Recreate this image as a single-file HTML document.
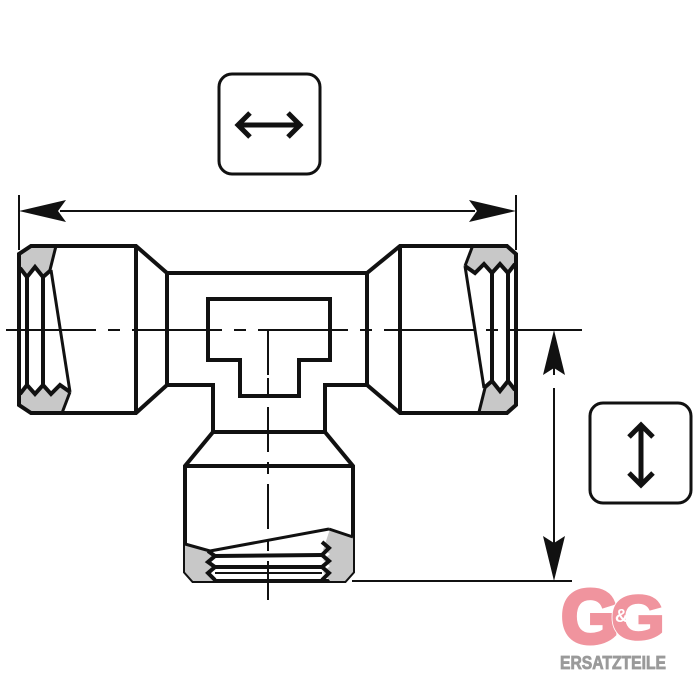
<!DOCTYPE html>
<html><head><meta charset="utf-8"><style>
html,body{margin:0;padding:0;background:#fff;width:700px;height:700px;overflow:hidden}
</style></head><body>
<svg width="700" height="700" viewBox="0 0 700 700" xmlns="http://www.w3.org/2000/svg">
<rect width="700" height="700" fill="#fff"/>
<g fill="none" stroke="#111" stroke-linejoin="miter">
<line x1="6" y1="330" x2="582" y2="330" stroke-width="2" stroke-dasharray="90 12 12 12"/>
<line x1="268" y1="330" x2="268" y2="600" stroke-width="2" stroke-dasharray="45 10 12 10"/>
<line x1="19" y1="195" x2="19" y2="250" stroke-width="2"/>
<line x1="516" y1="195" x2="516" y2="250" stroke-width="2"/>
<line x1="60" y1="211" x2="475" y2="211" stroke-width="2"/>
</g>
<polygon points="19,211 66,200 58,211 66,222" fill="#111"/>
<polygon points="516,211 469,200 477,211 469,222" fill="#111"/>

<g stroke="#111" fill="none" stroke-width="2">
<line x1="554" y1="360" x2="554" y2="375"/>
<line x1="554" y1="388" x2="554" y2="545"/>
<line x1="352" y1="581" x2="572" y2="581"/>
<line x1="540" y1="330" x2="582" y2="330"/>
</g>
<polygon points="554,330 543,375 554,368 565,375" fill="#111"/>
<polygon points="554,581 543,536 554,543 565,536" fill="#111"/>

<rect x="219" y="74" width="101" height="100" rx="13" fill="none" stroke="#111" stroke-width="3"/>
<g stroke="#111" stroke-width="5" fill="none">
<line x1="240" y1="125" x2="298" y2="125"/>
<polyline points="250,113 238,125 250,137"/>
<polyline points="288,113 300,125 288,137"/>
</g>
<rect x="590" y="403" width="101" height="100" rx="13" fill="none" stroke="#111" stroke-width="3"/>
<g stroke="#111" stroke-width="5" fill="none">
<line x1="641" y1="428" x2="641" y2="482"/>
<polyline points="629,437 641,425 653,437"/>
<polyline points="629,473 641,485 653,473"/>
</g>

<g id="nut">
<polygon points="19,254 31,245 55,245 50,270 43,276 35,266 27,276 20,268" fill="#c8c8c8"/>
<polygon points="20,395 27,386 35,395 43,386 51,395 60,386 70,392 63,413 31,413 19,406" fill="#c8c8c8"/>
<g fill="none" stroke="#111" stroke-width="4">
<polyline points="20,268 27,277 35,267 43,277 51,270"/>
<polyline points="20,394 27,385 35,394 43,385 51,394 60,385 70,392"/>
<line x1="27" y1="277" x2="27" y2="385"/>
<line x1="43" y1="277" x2="43" y2="385"/>
<line x1="56" y1="246" x2="50" y2="270" stroke-width="3"/>
<line x1="51" y1="270" x2="70" y2="392" stroke-width="3"/>
<line x1="70" y1="392" x2="62" y2="413" stroke-width="3"/>
</g>
</g>
<use href="#nut" transform="rotate(180 267.5 329)"/>

<g fill="none" stroke="#111" stroke-width="4" stroke-linejoin="miter">
<path d="M31,246 H136 L167,273 H367 L400,246 H507 L516,254 V405 L507,413 H400 L367,385 H325 V432 L353,466 V572 L345,581 H193 L185,572 V466 L213,432 V385 H167 L136,413 H31 L19,405 V254 Z"/>
<line x1="136" y1="246" x2="136" y2="413"/>
<line x1="167" y1="273" x2="167" y2="385"/>
<line x1="400" y1="246" x2="400" y2="413"/>
<line x1="367" y1="273" x2="367" y2="385"/>
<line x1="213" y1="432" x2="325" y2="432"/>
<line x1="185" y1="466" x2="353" y2="466"/>
<path d="M208,299 H330 V360 H299 V396 H240 V360 H208 Z"/>
</g>
<line x1="268" y1="360" x2="268" y2="396" stroke="#111" stroke-width="2" stroke-dasharray="12 6"/>

<polygon points="185,544 208,551 214,556 208,560 214,567 208,572 214,581 193,581 185,572" fill="#c8c8c8"/>
<polygon points="330,529 353,537 353,572 345,581 330,581 323,572 330,566 323,560 330,554 323,550" fill="#c8c8c8"/>
<g fill="none" stroke="#111" stroke-width="4">
<line x1="185" y1="544" x2="210" y2="551" stroke-width="3"/>
<line x1="210" y1="551" x2="329" y2="529" stroke-width="3"/>
<line x1="329" y1="529" x2="353" y2="537" stroke-width="3"/>
<polyline points="208,551 215,556 208,562 215,567 208,573 215,580"/>
<polyline points="322,542 329,548 322,555 329,561 322,567 329,573 322,580"/>
<line x1="215" y1="556" x2="322" y2="555"/>
<line x1="215" y1="567" x2="322" y2="567"/>
<line x1="215" y1="573" x2="322" y2="573" stroke-width="2"/>
</g>

<text x="561" y="643" font-family="Liberation Sans, sans-serif" font-weight="bold" font-size="76" fill="#f0949e" stroke="#f0949e" stroke-width="4" textLength="58" lengthAdjust="spacingAndGlyphs">G</text>
<text x="611" y="639" font-family="Liberation Sans, sans-serif" font-weight="bold" font-size="62" fill="#f0949e" stroke="#fff" stroke-width="4" paint-order="stroke" textLength="54" lengthAdjust="spacingAndGlyphs">G</text>
<text x="611" y="639" font-family="Liberation Sans, sans-serif" font-weight="bold" font-size="62" fill="#f0949e" stroke="#f0949e" stroke-width="2.5" textLength="54" lengthAdjust="spacingAndGlyphs">G</text>
<text x="615" y="622" font-family="Liberation Sans, sans-serif" font-weight="bold" font-size="18" fill="#fff">&amp;</text>
<text x="560" y="669" font-family="Liberation Sans, sans-serif" font-weight="bold" font-size="18" fill="#9a9a9a" stroke="#9a9a9a" stroke-width="0.8" textLength="106" lengthAdjust="spacingAndGlyphs">ERSATZTEILE</text>
</svg>
</body></html>
